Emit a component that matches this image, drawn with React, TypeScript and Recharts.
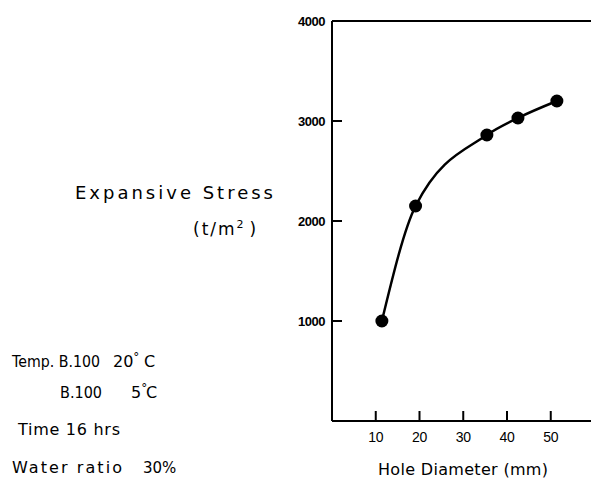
import React from 'react';
import { Line, LineChart, ReferenceLine, XAxis, YAxis } from 'recharts';

const holeDiameter = [11.4, 19.1, 35.4, 42.5, 51.4];
const expansiveStress = [1000, 2150, 2860, 3030, 3200];
const xTicks = [10, 20, 30, 40, 50];
const yTicks = [1000, 2000, 3000, 4000];

const data = holeDiameter.map((d, i) => ({ d, stress: expansiveStress[i] }));

const labelFont = '"DejaVu Sans", sans-serif';
const tickFont = '"Liberation Sans", Arial, sans-serif';

const YTick = (props: any) => {
    const { x, y, payload } = props;
    return (
        <g>
            {payload.value !== 4000 && (
                <line x1={x + 4} y1={y} x2={x + 14} y2={y} stroke="#000" strokeWidth={2} />
            )}
            <text
                x={x - 3}
                y={y}
                dy={5}
                textAnchor="end"
                fontFamily={tickFont}
                fontWeight="bold"
                fontSize={13}
                letterSpacing={-0.5}
                fill="#000">
                {payload.value}
            </text>
        </g>
    );
};

const XTick = (props: any) => {
    const { x, y, payload } = props;
    return (
        <g>
            <line x1={x} y1={y - 4} x2={x} y2={y - 14} stroke="#000" strokeWidth={2} />
            <text
                x={x}
                y={y + 17}
                textAnchor="middle"
                fontFamily={tickFont}
                fontSize={14}
                letterSpacing={-0.4}
                fill="#000">
                {payload.value}
            </text>
        </g>
    );
};

export default function App() {
    return (
        <div style={{ position: 'absolute', left: 0, top: 0, width: 591, height: 479, background: '#fff' }}>
            <LineChart
                width={591}
                height={479}
                data={data}
                margin={{ top: 21, right: 0, left: 292, bottom: 28 }}>
                <XAxis
                    type="number"
                    dataKey="d"
                    domain={[0, 59.2]}
                    ticks={xTicks}
                    allowDataOverflow
                    tickLine={false}
                    tickSize={0}
                    tickMargin={4}
                    height={30}
                    axisLine={{ stroke: '#000', strokeWidth: 2 }}
                    tick={<XTick />}
                />
                <YAxis
                    type="number"
                    domain={[0, 4000]}
                    ticks={yTicks}
                    width={40}
                    tickLine={false}
                    tickSize={0}
                    tickMargin={4}
                    axisLine={{ stroke: '#000', strokeWidth: 2 }}
                    tick={<YTick />}
                />
                <ReferenceLine y={4000} stroke="#000" strokeWidth={2} />
                <Line
                    type="monotone"
                    dataKey="stress"
                    stroke="#000"
                    strokeWidth={2.5}
                    dot={{ r: 6.5, fill: '#000', stroke: '#000', strokeWidth: 0 }}
                    isAnimationActive={false}
                />
            </LineChart>
            <svg
                width={591}
                height={479}
                style={{ position: 'absolute', left: 0, top: 0, pointerEvents: 'none' }}>
                <g fontFamily={labelFont} fill="#000" fontSize={16}>
                    <text x={75} y={199} fontSize={18} textLength={198} lengthAdjust="spacing">
                        Expansive Stress
                    </text>
                    <text x={193} y={235} fontSize={17} letterSpacing={2}>
                        (t/m<tspan dy={-7} fontSize={11}>2</tspan>
                        <tspan dy={7} dx={4}>)</tspan>
                    </text>
                    <text x={378} y={475} textLength={170} lengthAdjust="spacing">
                        Hole Diameter (mm)
                    </text>

                    <text x={12} y={367} fontSize={15} textLength={88} lengthAdjust="spacingAndGlyphs">
                        Temp. B.100
                    </text>
                    <text x={113} y={367}>
                        20<tspan dy={-6} fontSize={12}>°</tspan>
                    </text>
                    <text x={144} y={367}>C</text>

                    <text x={60} y={398} fontSize={15} textLength={42} lengthAdjust="spacingAndGlyphs">
                        B.100
                    </text>
                    <text x={131} y={398}>
                        5<tspan dy={-6} fontSize={12}>°</tspan>
                    </text>
                    <text x={146} y={398}>C</text>

                    <text x={18} y={435} textLength={102} lengthAdjust="spacing">
                        Time 16 hrs
                    </text>

                    <text x={12} y={473} textLength={110} lengthAdjust="spacing">
                        Water ratio
                    </text>
                    <text x={143} y={473} fontSize={15}>
                        30%
                    </text>
                </g>
            </svg>
        </div>
    );
}
